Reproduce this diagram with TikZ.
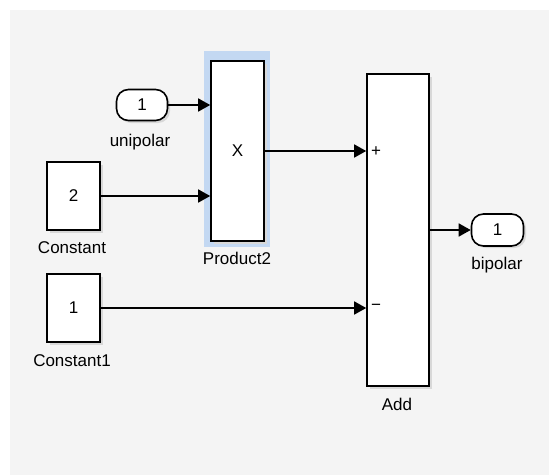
\documentclass[tikz,border=0pt]{standalone}
\usepackage{fontspec}
\setmainfont{Liberation Sans}
\usetikzlibrary{arrows.meta}
\definecolor{bg}{HTML}{F4F4F4}
\definecolor{sel}{HTML}{C3D8F2}
\definecolor{shd}{HTML}{D8D8D8}
\begin{document}
\begin{tikzpicture}[x=1pt,y=-1pt,
  txt/.style={font=\fontsize{17}{19}\selectfont},
  blk/.style={draw=black, line width=1.6pt, fill=white, inner sep=0pt, txt},
  port/.style={blk, rounded corners=12pt},
  lbl/.style={txt, inner sep=0pt},
  sig/.style={line width=1.6pt, -{Triangle[length=12pt,width=13pt]}},
  shad/.style={fill=shd, draw=none}]
\useasboundingbox (0,0) rectangle (549,475);
\fill[white] (0,0) rectangle (549,475);
\fill[bg] (10,10) rectangle (549,475);
% selection highlight
\fill[sel] (204,51) rectangle (270,247);
% shadows
\fill[shad] (50,165) rectangle (103,233);
\fill[shad] (50,277) rectangle (103,345);
\fill[shad] (214,64) rectangle (267,244);
\fill[shad] (370,77) rectangle (432,389);
\fill[shad, rounded corners=12pt] (119,92) rectangle (170,123);
\fill[shad, rounded corners=12pt] (474,216) rectangle (526,248);
% blocks
\node[port, minimum width=51pt, minimum height=31pt] (uni) at (142,105) {1};
\node[blk, minimum width=53pt, minimum height=68pt] (c2) at (73.5,196) {2};
\node[blk, minimum width=53pt, minimum height=68pt] (c1) at (73.5,308) {1};
\node[blk, minimum width=53pt, minimum height=180pt] (prod) at (237.5,151) {X};
\node[blk, minimum width=62pt, minimum height=312pt] (add) at (398,230) {};
\node[port, minimum width=52pt, minimum height=32pt] (bip) at (497.5,230) {1};
% labels
\node[lbl] (lu) at (140,142) {unipolar};
\node[lbl] (lc2) at (72,248) {Constant};
\node[lbl] (lc1) at (72,361) {Constant1};
\node[lbl] (lp) at (237,258) {Product2};
\node[lbl] (la) at (397,404) {Add};
\node[lbl] (lb) at (497,265) {bipolar};
\node[lbl] (plus) at (376,152) {+};
\node[lbl] (minus) at (376,307) {\textminus};
% signals
\draw[sig] (uni.east) -- (uni.east -| prod.west);
\draw[sig] (c2.east) -- (c2.east -| prod.west);
\draw[sig] (prod.east) -- (prod.east -| add.west);
\draw[sig] (c1.east) -- (c1.east -| add.west);
\draw[sig] (add.east) -- (bip.west);
\end{tikzpicture}
\end{document}
